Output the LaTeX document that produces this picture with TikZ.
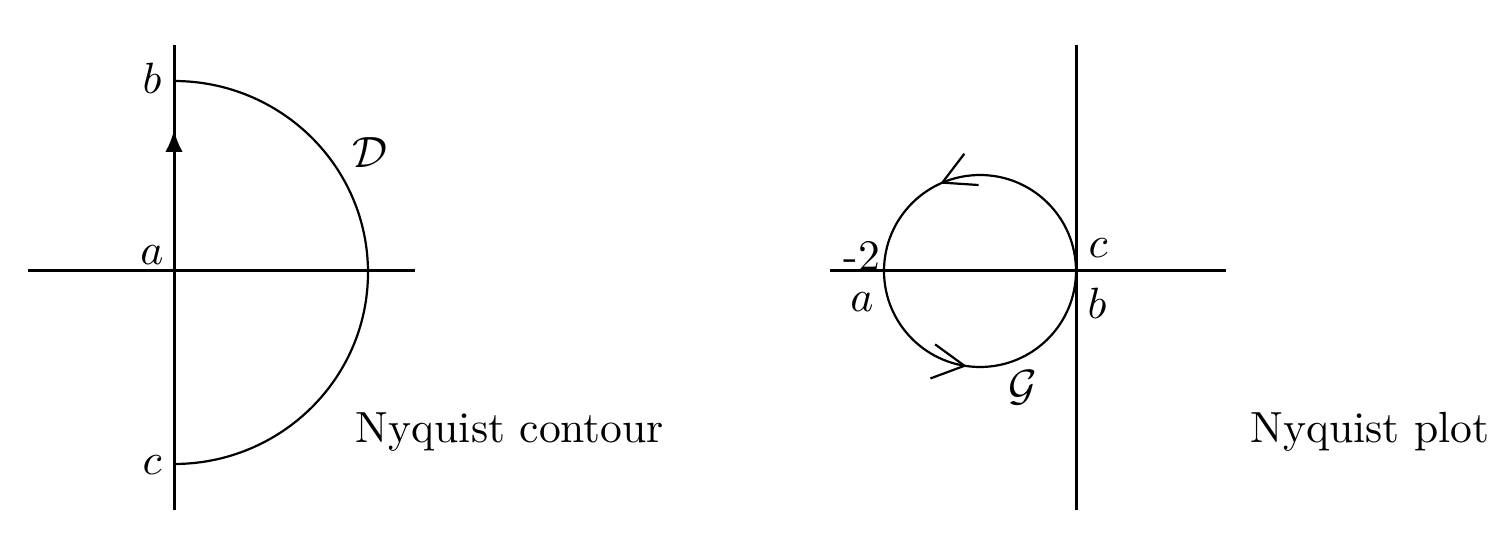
\documentclass[tikz,border=0pt]{standalone}
\usetikzlibrary{arrows.meta,decorations.markings}
\begin{document}
\begin{tikzpicture}[x=0.25pt,y=0.25pt,
  axis/.style={line width=0.75pt},
  curve/.style={line width=0.55pt},
  lbl/.style={inner sep=0pt,font=\fontsize{10.9}{13}\selectfont},
  barbtip/.tip={Straight Barb[length=8pt,width=8.6pt,line width=0.55pt]}]
\useasboundingbox (0,-545) rectangle (1510,0);
% ---------- left: Nyquist contour ----------
\coordinate (l-top) at (174,-45);
\coordinate (l-bot) at (174,-510);
\coordinate (l-left) at (28,-271);
\coordinate (l-right) at (415,-271);
\coordinate (l-b) at (174,-81);
\coordinate (l-mid) at (174,-130);
\draw[axis] (l-left) -- (l-right);
\draw[axis] (l-bot) -- (l-top);
\draw[axis,-{Latex[length=5.5pt,width=4.4pt]}] (l-bot) -- (l-mid);
\draw[curve] (l-b) arc[start angle=90,end angle=-90,x radius=194,y radius=191.5];
\node[lbl] (nb) at (152,-78) {$b$};
\node[lbl] (na) at (152,-255) {$a$};
\node[lbl] (nc) at (152,-465) {$c$};
\node[lbl] (nD) at (370,-153) {$\mathcal{D}$};
\node[lbl] (ncont) at (510,-432) {Nyquist contour};
% ---------- right: Nyquist plot ----------
\coordinate (r-top) at (1076,-45);
\coordinate (r-bot) at (1076,-510);
\coordinate (r-left) at (830,-271);
\coordinate (r-right) at (1226,-271);
\coordinate (r-b) at (1076,-271);
\draw[axis] (r-left) -- (r-right);
\draw[axis] (r-bot) -- (r-top);
\draw[curve,postaction={decorate},decoration={markings,
   mark=at position 0.318 with {\arrow{barbtip}},
   mark=at position 0.728 with {\arrow{barbtip}}}]
  (r-b) arc[start angle=0,end angle=360,radius=96];
\node[lbl] (n2) at (862,-256) {-2};
\node[lbl] (rc) at (1098,-248) {$c$};
\node[lbl] (ra) at (862,-302) {$a$};
\node[lbl] (rb) at (1097,-303) {$b$};
\node[lbl] (nG) at (1023,-388) {$\mathcal{G}$};
\node[lbl] (nplot) at (1370,-432) {Nyquist plot};
\end{tikzpicture}
\end{document}
